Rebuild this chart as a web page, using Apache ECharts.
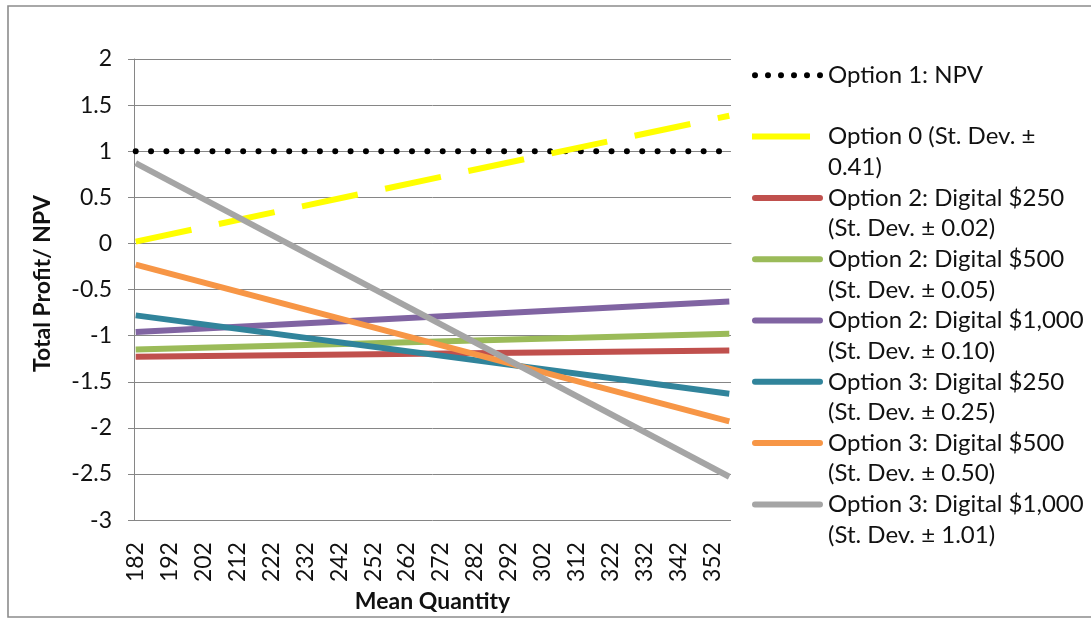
<!DOCTYPE html>
<html>
<head>
<meta charset="utf-8">
<script src="https://cdn.jsdelivr.net/npm/echarts@6/dist/echarts.min.js"></script>
<style>
  html, body { margin: 0; padding: 0; background: #ffffff; }
  #chart { width: 1091px; height: 618px; }
</style>
</head>
<body>
<div id="chart"></div>
<script>
// Mean quantity categories (one per unit, labelled every tenth)
const quantities = [
  '182','183','184','185','186','187','188','189','190','191',
  '192','193','194','195','196','197','198','199','200','201',
  '202','203','204','205','206','207','208','209','210','211',
  '212','213','214','215','216','217','218','219','220','221',
  '222','223','224','225','226','227','228','229','230','231',
  '232','233','234','235','236','237','238','239','240','241',
  '242','243','244','245','246','247','248','249','250','251',
  '252','253','254','255','256','257','258','259','260','261',
  '262','263','264','265','266','267','268','269','270','271',
  '272','273','274','275','276','277','278','279','280','281',
  '282','283','284','285','286','287','288','289','290','291',
  '292','293','294','295','296','297','298','299','300','301',
  '302','303','304','305','306','307','308','309','310','311',
  '312','313','314','315','316','317','318','319','320','321',
  '322','323','324','325','326','327','328','329','330','331',
  '332','333','334','335','336','337','338','339','340','341',
  '342','343','344','345','346','347','348','349','350','351',
  '352','353','354','355','356','357'
];

const seriesNames = [
  'Option 1: NPV',
  'Option 0 (St. Dev. ±\n0.41)',
  'Option 2: Digital $250\n(St. Dev. ± 0.02)',
  'Option 2: Digital $500\n(St. Dev. ± 0.05)',
  'Option 2: Digital $1,000\n(St. Dev. ± 0.10)',
  'Option 3: Digital $250\n(St. Dev. ± 0.25)',
  'Option 3: Digital $500\n(St. Dev. ± 0.50)',
  'Option 3: Digital $1,000\n(St. Dev. ± 1.01)'
];

const seriesColors = ['#000000', '#FFFF00', '#C0504D', '#9BBB59', '#8064A2', '#31849B', '#F79646', '#A5A5A5'];

// Total profit / NPV at the smallest and largest mean quantity
const startValues = [1, 0.02, -1.23, -1.15, -0.96, -0.78, -0.23, 0.87];
const endValues   = [1, 1.385, -1.16, -0.98, -0.63, -1.63, -1.93, -2.53];

const FONT = 'Lato, "Open Sans", sans-serif';
const TEXT_COLOR = '#111111';
const GRID_COLOR = '#868686';

// Legend glyphs: a 71 x 61.3 box (two text lines tall) with the mark on the first line.
const boxMarks = ' M0,0 L0.01,0 L0,0.01 Z M71,61.3 L70.99,61.3 L71,61.29 Z';
const solidIcon = 'path://M3,12.3 H68 A3,3 0 0 1 68,18.3 H3 A3,3 0 0 1 3,12.3 Z' + boxMarks;
const dashIcon = 'path://M0,12.3 H58 V18.3 H0 Z' + boxMarks;
let dotParts = '';
for (let k = 0; k < 6; k++) {
  const cx = 3 + k * 13;
  dotParts += ' M' + (cx - 3) + ',15.3 A3,3 0 1 0 ' + (cx + 3) + ',15.3 A3,3 0 1 0 ' + (cx - 3) + ',15.3 Z';
}
const dotIcon = 'path://' + dotParts.trim() + boxMarks;

function lineStyleFor(i) {
  if (i === 0) return { width: 6, color: seriesColors[i], type: [0, 15.35], cap: 'round' };
  if (i === 1) return { width: 6, color: seriesColors[i], type: [57, 28], cap: 'butt' };
  return { width: 6, color: seriesColors[i], type: 'solid' };
}

function iconFor(i) {
  if (i === 0) return dotIcon;
  if (i === 1) return dashIcon;
  return solidIcon;
}

const lastQuantity = quantities[quantities.length - 1];

const series = seriesNames.map((name, i) => ({
  name: name,
  type: 'line',
  symbol: 'none',
  silent: true,
  color: seriesColors[i],
  itemStyle: { color: seriesColors[i] },
  lineStyle: lineStyleFor(i),
  data: [[quantities[0], startValues[i]], [lastQuantity, endValues[i]]],
  z: 2 + i
}));

const chart = echarts.init(document.getElementById('chart'), null, { renderer: 'canvas' });

chart.setOption({
  animation: false,
  backgroundColor: '#ffffff',
  textStyle: { fontFamily: FONT },
  grid: { left: 134, right: 360, top: 59, bottom: 97, containLabel: false },
  graphic: [{
    type: 'rect',
    silent: true,
    shape: { x: 8, y: 6, width: 1200, height: 611 },
    style: { fill: 'none', stroke: '#8c8c8c', lineWidth: 1.6 }
  }],
  legend: {
    orient: 'vertical',
    left: 752,
    top: 60,
    padding: 0,
    itemWidth: 71,
    itemHeight: 61.3,
    itemGap: 0,
    selectedMode: false,
    symbolKeepAspect: false,
    data: seriesNames.map((name, i) => ({
      name: name,
      icon: iconFor(i),
      itemStyle: { color: seriesColors[i] }
    })),
    formatter: (name) => (name.indexOf('\n') < 0 ? name + '\n ' : name),
    textStyle: { fontFamily: FONT, fontSize: 24, lineHeight: 30.6, color: TEXT_COLOR }
  },
  xAxis: {
    type: 'category',
    data: quantities,
    boundaryGap: true,
    name: 'Mean Quantity',
    nameLocation: 'middle',
    nameGap: 66,
    nameTextStyle: { fontFamily: FONT, fontSize: 23, fontWeight: 'bold', color: TEXT_COLOR },
    axisLine: { show: true, lineStyle: { color: GRID_COLOR, width: 1 } },
    axisTick: { show: false },
    axisLabel: {
      interval: 9,
      rotate: 90,
      margin: 22,
      fontFamily: FONT,
      fontSize: 23,
      color: TEXT_COLOR
    },
    splitLine: { show: false }
  },
  yAxis: {
    type: 'value',
    min: -3,
    max: 2,
    interval: 0.5,
    name: 'Total Profit/ NPV',
    nameLocation: 'middle',
    nameGap: 80,
    nameRotate: 90,
    nameTextStyle: { fontFamily: FONT, fontSize: 23, fontWeight: 'bold', color: TEXT_COLOR, padding: [0, 0, 0, 12] },
    axisLine: { show: true, lineStyle: { color: GRID_COLOR, width: 1 } },
    axisTick: { show: true, inside: false, length: 6, lineStyle: { color: GRID_COLOR } },
    axisLabel: { margin: 22, fontFamily: FONT, fontSize: 23, color: TEXT_COLOR },
    splitLine: { show: true, lineStyle: { color: GRID_COLOR, width: 1 } }
  },
  series: series
});
</script>
</body>
</html>
